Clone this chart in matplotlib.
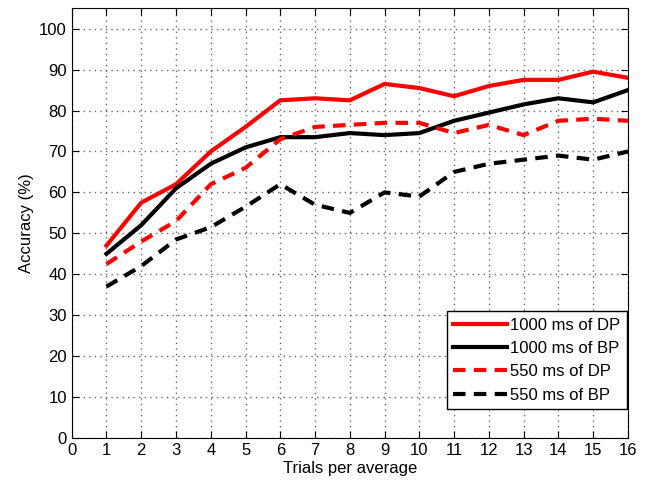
import matplotlib
matplotlib.use("Agg")
import matplotlib.pyplot as plt
import numpy as np

plt.rcParams['font.family'] = ['Liberation Sans', 'DejaVu Sans']

trials = np.arange(1, 17)
dp_1000 = [47, 57.5, 62, 70, 76, 82.5, 83, 82.5, 86.5, 85.5, 83.5, 86, 87.5, 87.5, 89.5, 88]
bp_1000 = [45, 52, 61, 67, 71, 73.5, 73.5, 74.5, 74, 74.5, 77.5, 79.5, 81.5, 83, 82, 85]
dp_550 = [42.5, 48, 53, 62, 66, 73, 76, 76.5, 77, 77, 74.5, 76.5, 74, 77.5, 78, 77.5]
bp_550 = [37, 42, 48.5, 51.5, 56.5, 62, 57, 55, 60, 59, 65, 67, 68, 69, 68, 70]

fig = plt.figure(figsize=(6.46, 4.84), dpi=100)
ax = fig.add_axes([0.111, 0.095, 0.861, 0.888])

ax.plot(trials, dp_1000, color='#ff0000', lw=3, label='1000 ms of DP')
ax.plot(trials, bp_1000, color='black', lw=3, label='1000 ms of BP')
ax.plot(trials, dp_550, color='#ff0000', lw=3, ls=(0, (3, 2)), label='550 ms of DP')
ax.plot(trials, bp_550, color='black', lw=3, ls=(0, (3, 2)), label='550 ms of BP')

ax.set_xlim(0, 16)
ax.set_ylim(0, 105)
ax.set_xticks(range(0, 17))
ax.set_yticks(range(0, 101, 10))
ax.tick_params(direction='in', top=True, right=True, labelsize=12, length=5)
ax.grid(True, ls=(0, (1, 3)), color='#666666', lw=1)
ax.set_xlabel('Trials per average', fontsize=12, labelpad=2)
ax.set_ylabel('Accuracy (%)', fontsize=12)

leg = ax.legend(loc='lower right', bbox_to_anchor=(0.998, 0.067), fontsize=12,
                fancybox=False, framealpha=1, edgecolor='black',
                handlelength=3.2, handletextpad=0.2, borderaxespad=0,
                labelspacing=0.5)
leg.get_frame().set_linewidth(1)

fig.savefig('out.png', dpi=100)
